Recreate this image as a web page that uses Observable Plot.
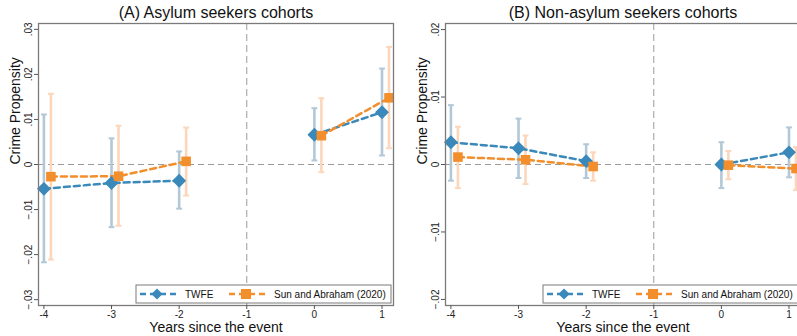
<!DOCTYPE html>
<html>
<head>
<meta charset="utf-8">
<script src="https://cdn.jsdelivr.net/npm/d3@7"></script>
<script src="https://cdn.jsdelivr.net/npm/@observablehq/plot@0.6"></script>
<style>
  html, body { margin: 0; padding: 0; background: white; overflow: hidden; }
  #wrap { position: relative; width: 797px; height: 336px; overflow: hidden; background: white; }
  #wrap > svg { position: absolute; top: 0; }
</style>
</head>
<body>
<div id="wrap"></div>
<script>
// ---- data ----
const years = [-4, -3, -2, 0, 1];
const xTicks = [-4, -3, -2, -1, 0, 1];
const seriesNames = ["TWFE", "Sun and Abraham (2020)"];
const titleA = "(A) Asylum seekers cohorts";
const titleB = "(B) Non-asylum seekers cohorts";
const yTicksA = [-0.03, -0.02, -0.01, 0, 0.01, 0.02, 0.03];
const yTicksB = [-0.02, -0.01, 0, 0.01, 0.02];

const aTwfe   = [-0.0054, -0.0041, -0.0036, 0.0066, 0.0116];
const aTwfeLo = [-0.0217, -0.0139, -0.0098, 0.0009, 0.0020];
const aTwfeHi = [ 0.0111,  0.0058,  0.0029, 0.0125, 0.0213];
const aSa     = [-0.0027, -0.0026,  0.0007, 0.0064, 0.0148];
const aSaLo   = [-0.0211, -0.0136, -0.0069, -0.0017, 0.0036];
const aSaHi   = [ 0.0157,  0.0086,  0.0082, 0.0147, 0.0261];

const bTwfe   = [ 0.0033,  0.0024,  0.0005,  0.0000,  0.0018];
const bTwfeLo = [-0.0024, -0.0020, -0.0020, -0.0035, -0.0019];
const bTwfeHi = [ 0.0088,  0.0068,  0.0030,  0.0033,  0.0055];
const bSa     = [ 0.0011,  0.0007, -0.0003, -0.0001, -0.0006];
const bSaLo   = [-0.0035, -0.0029, -0.0024, -0.0022, -0.0038];
const bSaHi   = [ 0.0056,  0.0043,  0.0018,  0.0020,  0.0026];

// ---- styles ----
const BLUE = "#3A89BA", ORANGE = "#F28E2B";
const BLUE_CI = "#B2C8D7", ORANGE_CI = "#FCD6BA";
const FONT = "'Liberation Sans', Arial, Helvetica, sans-serif";
const SA_DX = 7;

const capSymbol = {
  draw(ctx, size) {
    const w = Math.sqrt(size);
    ctx.moveTo(-w / 2, 0);
    ctx.lineTo(w / 2, 0);
  }
};

function build(vals, lo, hi) {
  return years.map((x, i) => ({x, y: vals[i], lo: lo[i], hi: hi[i], seg: x < -1 ? "pre" : "post"}));
}

function fmt(d) {
  if (d === 0) return "0";
  return d3.format(".2f")(d).replace("0.", ".");
}

function ciMarks(data, ci, dx) {
  return [
    Plot.ruleX(data, {x: "x", y1: "lo", y2: "hi", stroke: ci, strokeWidth: 2.6, dx}),
    Plot.dot(data, {x: "x", y: "lo", symbol: capSymbol, r: 3.3, stroke: ci, strokeWidth: 2, fill: "none", dx}),
    Plot.dot(data, {x: "x", y: "hi", symbol: capSymbol, r: 3.3, stroke: ci, strokeWidth: 2, fill: "none", dx})
  ];
}

function panel(title, twfe, sa, yDomain, yTicks, left) {
  const svg = Plot.plot({
    width: 400, height: 336,
    marginLeft: 38, marginRight: 7, marginTop: 23, marginBottom: 31,
    x: {domain: [-4.08, 1.17]},
    y: {domain: yDomain},
    style: {fontFamily: FONT, background: "white", color: "#222", overflow: "visible"},
    marks: [
      Plot.ruleY([0], {stroke: "#9a9a9a", strokeWidth: 1, strokeDasharray: "6,4"}),
      Plot.ruleX([-1], {stroke: "#9a9a9a", strokeWidth: 1, strokeDasharray: "7,4"}),
      ...ciMarks(twfe, BLUE_CI, 0),
      ...ciMarks(sa, ORANGE_CI, SA_DX),
      Plot.line(twfe, {x: "x", y: "y", z: "seg", stroke: BLUE, strokeWidth: 2.5, strokeDasharray: "6,4"}),
      Plot.line(sa, {x: "x", y: "y", z: "seg", stroke: ORANGE, strokeWidth: 2.5, strokeDasharray: "6,4", dx: SA_DX}),
      Plot.dot(twfe, {x: "x", y: "y", symbol: "diamond2", r: 5.3, fill: BLUE, stroke: BLUE, strokeWidth: 1.5}),
      Plot.dot(sa, {x: "x", y: "y", symbol: "square", r: 5.4, fill: ORANGE, stroke: "none", dx: SA_DX}),
      Plot.frame({stroke: "#7a7a7a", strokeWidth: 1.3}),
      Plot.axisX({ticks: xTicks, tickFormat: d => String(d), tickSize: 4, tickPadding: 1, fontSize: 10, label: null, stroke: "#555"}),
      Plot.axisY({ticks: yTicks, tickFormat: fmt, tickRotate: -90, tickSize: 4, tickPadding: 3, fontSize: 10, label: null, stroke: "#555"}),
      Plot.text([title], {text: d => d, frameAnchor: "top", dy: -11, lineAnchor: "middle", fontSize: 16, fill: "#111"}),
      Plot.text(["Years since the event"], {text: d => d, frameAnchor: "bottom", dy: 22, lineAnchor: "middle", fontSize: 14, fill: "#111"}),
      Plot.text(["Crime Propensity"], {text: d => d, frameAnchor: "left", dx: -23, lineAnchor: "middle", rotate: -90, fontSize: 14, fill: "#111"})
    ]
  });
  svg.style.left = left + "px";

  // legend
  const g = d3.select(svg).append("g").attr("font-family", FONT).attr("text-anchor", "start");
  g.append("rect").attr("x", 136).attr("y", 285).attr("width", 255).attr("height", 18)
    .attr("fill", "white").attr("stroke", "#7a7a7a").attr("stroke-width", 1);
  const items = [
    {name: seriesNames[0], color: BLUE, symbol: d3.symbolDiamond2, x0: 140, size: 80},
    {name: seriesNames[1], color: ORANGE, symbol: d3.symbolSquare, x0: 229, size: 100}
  ];
  for (const it of items) {
    g.append("line").attr("x1", it.x0).attr("x2", it.x0 + 36).attr("y1", 294).attr("y2", 294)
      .attr("stroke", it.color).attr("stroke-width", 2.5).attr("stroke-dasharray", "6,4");
    g.append("path").attr("d", d3.symbol(it.symbol, it.size)())
      .attr("transform", `translate(${it.x0 + 17},294)`).attr("fill", it.color);
    g.append("text").attr("x", it.x0 + 45).attr("y", 294).attr("dy", "0.35em")
      .attr("text-anchor", "start").attr("font-size", 10).attr("fill", "#111").text(it.name);
  }
  return svg;
}

const wrap = document.getElementById("wrap");
wrap.appendChild(panel(titleA, build(aTwfe, aTwfeLo, aTwfeHi), build(aSa, aSaLo, aSaHi), [-0.0313, 0.0313], yTicksA, 0));
wrap.appendChild(panel(titleB, build(bTwfe, bTwfeLo, bTwfeHi), build(bSa, bSaLo, bSaHi), [-0.0209, 0.0209], yTicksB, 407));
</script>
</body>
</html>
